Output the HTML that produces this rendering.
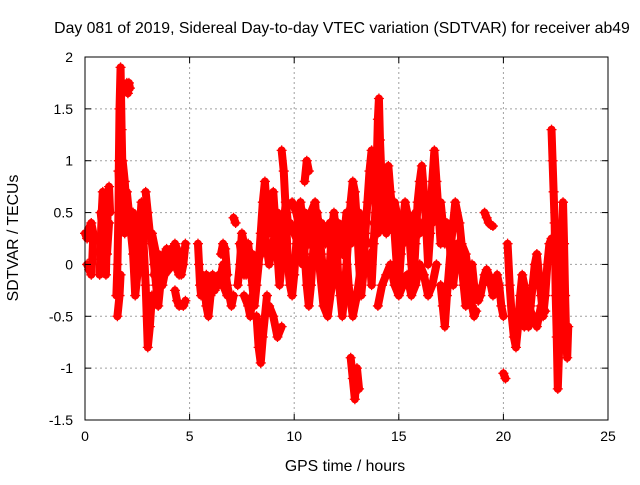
<!DOCTYPE html>
<html><head><meta charset="utf-8"><style>
body{margin:0;background:#fff}
svg text{font-family:"Liberation Sans",sans-serif;font-size:14px;fill:#000}
svg text.big{font-size:15.8px}
</style></head><body>
<svg id="chart" width="640" height="480">
<rect width="640" height="480" fill="#fff"/>
<text class="big" x="342" y="33" text-anchor="middle">Day 081 of 2019, Sidereal Day-to-day VTEC variation (SDTVAR) for receiver ab49</text>
<text class="big" x="345" y="471" text-anchor="middle">GPS time / hours</text>
<text class="big" transform="translate(18,238) rotate(-90)" text-anchor="middle">SDTVAR / TECUs</text>
<g id="grid"></g><g id="marks"></g><g id="axes"></g>
</svg>
<script>
const xTicks=[0,5,10,15,20,25];
const yTicks=[-1.5,-1,-0.5,0,0.5,1,1.5,2];
const yTickLabels=["-1.5","-1","-0.5","0","0.5","1","1.5","2"];
const tracks=[
[[0,0.3],[0.1,0.25],[0.2,0.35],[0.3,0.4],[0.4,0.3],[0.35,0.05],[0.3,-0.1],[0.2,-0.05],[0.1,0]],
[[0.7,-0.1],[0.75,0.2],[0.8,0.5],[0.85,0.7],[0.9,0.4],[0.95,0.1],[1.0,-0.1],[1.05,0.3],[1.1,0.6],[1.15,0.75],[1.2,0.5]],
[[0.75,0.5],[0.85,0.3],[0.95,0.5],[1.05,0.1],[1.15,0.4]],
[[1.5,-0.3],[1.55,0],[1.6,0.5],[1.62,1.0],[1.65,1.5],[1.7,1.9],[1.75,1.3],[1.8,0.8],[1.85,0.6],[1.9,0.3]],
[[1.6,0.9],[1.7,0.6],[1.8,1.0],[1.9,0.8],[2.0,0.5]],
[[1.55,-0.5],[1.65,-0.3],[1.7,-0.1]],
[[2.0,1.75],[2.05,1.65],[2.1,1.75],[2.15,1.7]],
[[2.0,0.7],[2.1,0.5],[2.2,0.3],[2.3,0.1],[2.4,-0.3],[2.5,-0.1],[2.6,0.3],[2.7,0.6],[2.8,0.2],[2.9,-0.2],[2.95,-0.5],[3.0,-0.8],[3.1,-0.6],[3.2,-0.3]],
[[2.3,0.5],[2.5,0.2],[2.7,0.3],[2.9,0.4]],
[[2.9,0.7],[3.0,0.5],[3.1,0.3],[3.2,0.2],[3.3,0.0],[3.4,-0.2],[3.5,-0.4],[3.6,-0.2],[3.7,0.0],[3.8,0.1],[3.9,0.15],[4.0,0.1],[4.1,0.05],[4.2,0.1],[4.3,0.2],[4.4,0.15],[4.5,0.0],[4.6,-0.1],[4.7,0.0],[4.8,0.2]],
[[3.2,0.3],[3.4,0.1],[3.6,0.0],[3.8,-0.1],[4.0,-0.05],[4.2,0],[4.4,0.05],[4.6,0.1]],
[[3.3,-0.1],[3.5,0.1],[3.7,-0.2],[3.9,0.0],[4.1,0.15],[4.3,0.0],[4.5,-0.1]],
[[4.3,-0.25],[4.4,-0.35],[4.5,-0.4],[4.7,-0.4],[4.8,-0.35]],
[[5.4,0.2],[5.45,0.0],[5.5,-0.2],[5.55,-0.3],[5.6,-0.1]],
[[5.7,-0.2],[5.8,-0.4],[5.9,-0.5],[6.0,-0.3],[6.1,-0.1],[6.2,-0.15],[6.4,-0.2],[6.5,-0.1],[6.6,0.0],[6.7,-0.05],[6.8,-0.2],[6.9,-0.3],[7.0,-0.4],[7.1,-0.3]],
[[5.8,-0.1],[6.0,-0.2],[6.2,-0.25],[6.4,-0.1],[6.6,-0.2],[6.8,-0.3]],
[[6.5,0.1],[6.6,0.2],[6.7,0.15],[6.8,-0.1]],
[[7.1,0.45],[7.2,0.4]],
[[7.3,-0.2],[7.4,0.0],[7.5,0.3],[7.6,0.2],[7.7,-0.1],[7.8,0.2],[7.9,0.0],[8.0,-0.2],[8.1,-0.4],[8.2,-0.2],[8.3,0],[8.4,0.3],[8.5,0.6],[8.6,0.8],[8.7,0.5],[8.8,0.3],[8.9,0.5],[9.0,0.7],[9.1,0.4],[9.2,0.1],[9.3,-0.2],[9.4,0.0],[9.5,0.4],[9.6,0.6],[9.7,0.4]],
[[7.4,0.2],[7.6,-0.1],[7.8,0.0],[8.0,0.1],[8.2,0.0],[8.4,0.1],[8.6,0.3],[8.8,0.0],[9.0,0.2],[9.2,0.5],[9.4,0.3],[9.6,0.2]],
[[8.2,-0.5],[8.3,-0.8],[8.4,-0.95],[8.5,-0.7],[8.6,-0.5],[8.7,-0.3]],
[[7.6,-0.3],[7.8,-0.4],[7.9,-0.5],[8.0,-0.3]],
[[9.4,1.1],[9.5,0.9],[9.6,0.5],[9.7,0.0],[9.8,-0.2],[9.9,-0.3],[10.0,-0.1],[10.1,0.2],[10.2,0.5],[10.3,0.6],[10.4,0.4],[10.5,0.1],[10.6,-0.2],[10.7,-0.4],[10.8,-0.2],[10.9,0.1],[11.0,0.4],[11.1,0.5],[11.2,0.3],[11.3,0.1],[11.4,-0.1],[11.5,-0.3],[11.6,-0.2],[11.7,0.0],[11.8,0.3],[11.9,0.5],[12.0,0.3],[12.1,-0.1],[12.2,-0.3],[12.3,-0.5],[12.4,-0.3],[12.5,0.0],[12.6,0.3],[12.7,0.6],[12.8,0.8],[12.9,0.7],[13.0,0.4],[13.1,0.0],[13.2,-0.3],[13.3,-0.1],[13.4,0.3],[13.5,0.6],[13.6,0.9],[13.7,1.1],[13.8,0.9],[13.9,0.5]],
[[9.8,0.4],[10.0,0.3],[10.2,0.2],[10.4,0.0],[10.6,0.3],[10.8,0.5],[11.0,0.6],[11.2,0.0],[11.4,-0.4],[11.6,-0.5],[11.8,-0.2],[12.0,0.1],[12.2,0.2],[12.4,0.4],[12.6,-0.2],[12.8,-0.5],[13.0,-0.3],[13.2,0.0]],
[[9.9,0.6],[10.1,0.5],[10.3,0.3],[10.5,0.5],[10.7,0.2],[10.9,0.4],[11.1,0.1],[11.3,0.4],[11.5,0.2],[11.7,0.4],[11.9,0.0],[12.1,0.4],[12.3,0.1],[12.5,0.5],[12.7,0.2],[12.9,0.4],[13.1,0.5],[13.3,0.3],[13.5,0.2]],
[[10.5,0.8],[10.6,1.0],[10.7,0.9]],
[[8.8,-0.4],[9.0,-0.5],[9.2,-0.7],[9.4,-0.6]],
[[12.7,-0.9],[12.8,-1.1],[12.9,-1.3],[13.0,-1.0],[13.1,-1.2]],
[[13.6,0.1],[13.7,-0.2],[13.8,0.2],[13.9,0.6],[14.0,1.4],[14.05,1.6],[14.1,1.2],[14.2,0.7],[14.3,0.4],[14.4,0.7],[14.5,0.95],[14.6,0.7],[14.7,0.5],[14.8,0.3],[14.9,0.0],[15.0,-0.2],[15.1,0.1],[15.2,0.4],[15.3,0.6],[15.4,0.5],[15.5,0.3],[15.6,0.0],[15.7,-0.2],[15.8,0.2],[15.9,0.6],[16.0,0.8],[16.1,0.95],[16.2,0.7],[16.3,0.4],[16.4,0.0],[16.5,0.3],[16.6,0.8],[16.7,1.1],[16.8,0.8],[16.9,0.5],[17.0,0.2]],
[[13.8,0.4],[14.0,0.3],[14.2,0.5],[14.4,0.3],[14.6,0.5],[14.8,0.6],[15.0,0.4],[15.2,0.2],[15.4,0.3],[15.6,0.4],[15.8,0.5],[16.0,0.3],[16.2,0.4],[16.4,0.5],[16.6,0.4],[16.8,0.5]],
[[14.0,-0.4],[14.2,-0.2],[14.4,-0.1],[14.6,0.0],[14.8,-0.2],[15.0,-0.3],[15.2,-0.2],[15.4,-0.1],[15.6,-0.3],[15.8,-0.2],[16.0,0.0],[16.2,-0.1],[16.4,-0.3],[16.6,-0.2],[16.8,0.0]],
[[17.0,0.6],[17.1,0.4],[17.2,0.2],[17.3,0.4],[17.4,0.3],[17.5,0.0],[17.6,-0.2],[17.7,0.0],[17.8,0.2],[17.9,0.1],[18.0,0.0],[18.1,-0.2],[18.2,-0.4],[18.3,-0.3],[18.4,-0.1],[18.5,0.0],[18.6,-0.2],[18.7,-0.3],[18.8,-0.35],[18.9,-0.3],[19.0,-0.2],[19.1,-0.1],[19.2,-0.05],[19.3,-0.1],[19.4,-0.2],[19.5,-0.3],[19.6,-0.2],[19.7,-0.1],[19.8,-0.2],[19.9,-0.4],[20.0,-0.5]],
[[17.0,-0.2],[17.1,-0.4],[17.2,-0.6],[17.3,-0.3],[17.5,0.2],[17.6,0.4],[17.7,0.6],[17.9,0.4],[18.0,0.2],[18.2,0.1],[18.4,-0.2],[18.5,-0.4],[18.6,-0.5],[18.7,-0.45]],
[[19.1,0.5],[19.2,0.45],[19.3,0.4],[19.4,0.38],[19.5,0.37]],
[[20.0,-1.05],[20.1,-1.1]],
[[20.2,0.2],[20.3,-0.2],[20.4,-0.5],[20.5,-0.7],[20.6,-0.8],[20.7,-0.6],[20.8,-0.3],[20.9,-0.1],[21.0,-0.2],[21.1,-0.5],[21.2,-0.6],[21.3,-0.4],[21.4,-0.2],[21.5,0.0],[21.6,0.1],[21.7,-0.1],[21.8,-0.3],[21.9,-0.5],[22.0,-0.3],[22.1,0.0],[22.2,0.2],[22.3,0.25]],
[[20.8,-0.5],[21.0,-0.6],[21.2,-0.4],[21.4,-0.5],[21.6,-0.6],[21.8,-0.4],[22.0,-0.45]],
[[22.3,1.3],[22.35,1.0],[22.4,0.7],[22.45,0.4],[22.5,-0.3],[22.55,-0.7],[22.6,-1.2],[22.65,-0.9],[22.7,-0.6],[22.75,-0.2],[22.8,0.2],[22.85,0.6],[22.9,0.2],[22.95,-0.3],[23.0,-0.7],[23.05,-0.9],[23.1,-0.6]]
];
const NS="http://www.w3.org/2000/svg";
const L=85,R=608,T=57,B=420,xMin=0,xMax=25,yMin=-1.5,yMax=2;
function xs(v){return L+(v-xMin)/(xMax-xMin)*(R-L);}
function ys(v){return B-(v-yMin)/(yMax-yMin)*(B-T);}
function mk(tag,attrs,parent){const e=document.createElementNS(NS,tag);for(const k in attrs)e.setAttribute(k,attrs[k]);parent.appendChild(e);return e;}
const grid=document.getElementById('grid'),marks=document.getElementById('marks'),axes=document.getElementById('axes');
xTicks.forEach(t=>{
  const x=xs(t);
  if(t>xMin&&t<xMax){const g=mk('line',{x1:x,x2:x,y1:T,y2:B,stroke:'#a0a0a0','stroke-dasharray':'2,3'},grid);
  
  }
  mk('line',{x1:x,x2:x,y1:B,y2:B-6,stroke:'#000'},axes);
  mk('line',{x1:x,x2:x,y1:T,y2:T+6,stroke:'#000'},axes);
  const tx=mk('text',{x:x,y:B+21,'text-anchor':'middle'},axes);tx.textContent=String(t);
  
  
});
yTicks.forEach((t,i)=>{
  const y=ys(t);
  if(t>yMin&&t<yMax){const g=mk('line',{x1:L,x2:R,y1:y,y2:y,stroke:'#a0a0a0','stroke-dasharray':'2,3'},grid);
  
  }
  mk('line',{x1:L,x2:L+6,y1:y,y2:y,stroke:'#000'},axes);
  mk('line',{x1:R,x2:R-6,y1:y,y2:y,stroke:'#000'},axes);
  const tx=mk('text',{x:L-12,y:y+5,'text-anchor':'end'},axes);tx.textContent=yTickLabels[i];
  
  
});
const frame=mk('rect',{x:L,y:T,width:R-L,height:B-T,fill:'none',stroke:'#000'},axes);


tracks.forEach(tr=>{
  const pl=mk('polyline',{points:tr.map(p=>xs(p[0])+','+ys(p[1])).join(' '),fill:'none',stroke:'#f00','stroke-width':8,'stroke-linejoin':'round','stroke-linecap':'round'},marks);
  
  
  tr.forEach(p=>{
    const x=xs(p[0]),y=ys(p[1]);
    const m=mk('path',{d:`M${x-5},${y}H${x+5}M${x},${y-5}V${y+5}`,stroke:'#f00','stroke-width':1.3},marks);
    
    
  });
});
</script>
</body></html>
